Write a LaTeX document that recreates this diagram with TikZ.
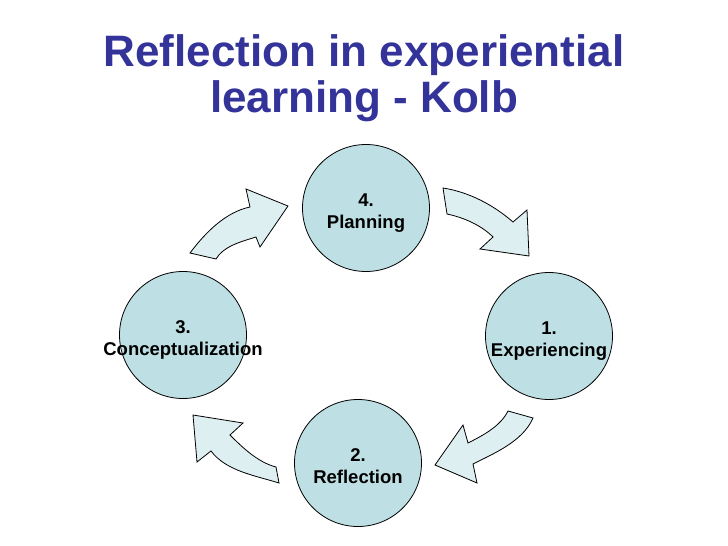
\documentclass[tikz,border=0pt]{standalone}
\usepackage{fontspec}
\setmainfont{Liberation Sans}
\definecolor{titleblue}{HTML}{333399}
\definecolor{circfill}{HTML}{BEE0E4}
\definecolor{arrfill}{HTML}{DDEFF1}
\begin{document}
\begin{tikzpicture}[x=1pt,y=-1pt,
  circ/.style={circle,draw=black,line width=0.8pt,fill=circfill,minimum size=127pt,inner sep=0pt},
  ctext/.style={font=\fontsize{18.5}{22}\selectfont\bfseries,align=center,text height=17pt,text depth=1pt,inner sep=0pt,yshift=-12pt},
  ttext/.style={font=\fontsize{44}{46}\selectfont\bfseries,text=titleblue,anchor=base,inner sep=0pt},
  blockarrow/.style={draw=black,line width=0.8pt,fill=arrfill,line join=miter}]
\useasboundingbox (0,0) rectangle (728,546);
% title
\node[ttext] (t1) at (364,66) {Reflection in experiential};
\node[ttext] (t2) at (364,112) {learning - Kolb};
% circles
\node[circ] (plan) at (366,208) {};
\node[circ] (exp) at (549,336) {};
\node[circ] (refl) at (358,463) {};
\node[circ] (conc) at (183,335) {};
\node[ctext] (plant) at (plan.center) {4.\\Planning};
\node[ctext] (expt) at (exp.center) {1.\\Experiencing};
\node[ctext] (reflt) at (refl.center) {2.\\Reflection};
\node[ctext] (conct) at (conc.center) {3.\\Conceptualization};
% block arrows
\draw[blockarrow] (443,188) .. controls (469,192) and (493.5,205) .. (513,222) -- (527,210) -- (529,256) -- (480,249) -- (493,237) .. controls (481,225) and (463.5,217.5) .. (447,214) -- cycle;
\draw[blockarrow] (508,411) -- (533,418) .. controls (523,441) and (495.5,452.7) .. (473,464) -- (477,483) -- (435,465) -- (463,425) -- (468,443) .. controls (483,435.4) and (500.4,426.3) .. (508,411) -- cycle;
\draw[blockarrow] (276,467) -- (279,483) .. controls (255,475.5) and (226,471) .. (211,451) -- (197,462) -- (193,415) -- (243,423) -- (230,435) .. controls (243,448) and (258,462.3) .. (276,467) -- cycle;
\draw[blockarrow] (190,253) .. controls (205,233) and (225.5,212) .. (250,207) -- (246,189) -- (288,206) -- (260,247) -- (256,237) .. controls (241.7,241.5) and (223.5,246) .. (216,259) -- cycle;
\end{tikzpicture}
\end{document}
